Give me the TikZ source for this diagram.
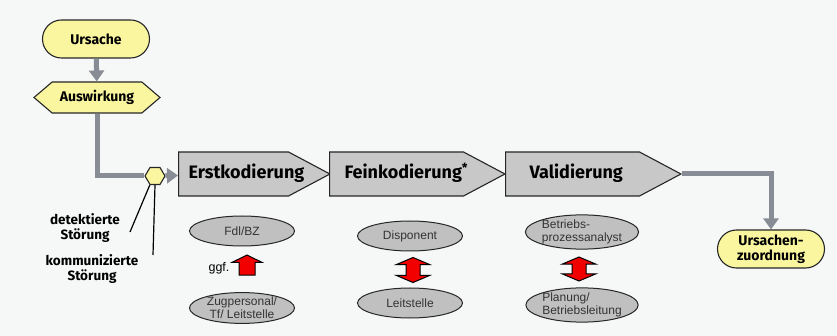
\documentclass[tikz,border=0pt]{standalone}
\usepackage{fontspec}
\setmainfont{Fira Sans}
\newfontfamily\arialfont{Liberation Sans}
\usetikzlibrary{shapes.misc,shapes.symbols,shapes.arrows,shapes.geometric,arrows.meta}
\definecolor{hgrund}{HTML}{F5F8F6}
\definecolor{gelb}{HTML}{FAF6A0}
\definecolor{kasten}{HTML}{C8C8C8}
\definecolor{oval}{HTML}{C0C0C0}
\definecolor{pfeilgrau}{HTML}{878C95}
\definecolor{rot}{HTML}{F20000}
\newcommand\phasetext[3]{\makebox[#1][l]{\hspace*{#2}#3}}
\begin{document}
\begin{tikzpicture}[x=1pt, y=-1pt, node distance=77pt,
  gelbrund/.style={rounded rectangle, draw=black!85, line width=1.1pt, fill=gelb, minimum width=107pt, minimum height=38pt, inner sep=0pt, align=center, font=\bfseries\fontsize{14}{15}\selectfont},
  gelbsechs/.style={signal, signal to=east and west, draw=black!85, line width=1.1pt, fill=gelb, inner sep=0pt},
  phase/.style={signal, signal to=east, signal pointer angle=56, draw=black!85, line width=1.1pt, fill=kasten, text height=13pt, text depth=4pt, inner xsep=0pt, inner ysep=13.5pt, anchor=west, font=\bfseries\fontsize{18}{20}\selectfont},
  oval/.style={ellipse, draw=black!85, line width=1pt, fill=oval, minimum width=105pt, minimum height=30pt, inner sep=0pt, align=center, text=black!80, font=\arialfont\fontsize{12}{13}\selectfont},
  rotpfeil/.style={draw=black, line width=1pt, fill=rot, inner xsep=0pt, rotate=90},
  grau/.style={draw=pfeilgrau, line width=5pt, -{Triangle[width=15pt,length=11pt]}},
  grauline/.style={draw=pfeilgrau, line width=5pt},
  merk/.style={align=center, font=\bfseries\fontsize{13.5}{15}\selectfont}]
\useasboundingbox[fill=hgrund] (0,0) rectangle (837,336);

\node[gelbrund] (U) at (96,39) {Ursache};
\node[gelbsechs, signal pointer angle=81, minimum width=126pt, minimum height=31pt, font=\bfseries\fontsize{14}{15}\selectfont] (A) at (97,97.5) {Auswirkung};
\node[gelbsechs, signal pointer angle=119, minimum width=20pt, minimum height=17pt] (H) at (155,176) {};

\node[phase] (K1) at (178,174) {\phasetext{110pt}{10pt}{Erstkodierung}};
\node[phase] (K2) at (329,174) {\phasetext{134pt}{15pt}{Feinkodierung\textsuperscript{*}}};
\node[phase] (K3) at (505,174) {\phasetext{134pt}{24pt}{Validierung}};

\node[gelbrund] (Z) at (771,249) {Ursachen-\\zuordnung};

\node[oval] (E1) at (242,231) {Fdl/BZ};
\node[oval] (E2) [below of=E1] {Zugpersonal/\\Tf/ Leitstelle};
\node[oval] (E3) at (410,236) {Disponent};
\node[oval] (E4) [below of=E3, node distance=67pt] {Leitstelle};
\node[oval, align=left] (E5) at (582,232) {Betriebs-\\prozessanalyst};
\node[oval, align=left] (E6) [below of=E5, node distance=73pt] {Planung/\\Betriebsleitung};

\node[rotpfeil, single arrow, inner ysep=7.5pt, minimum height=20pt, single arrow head extend=7pt, single arrow tip angle=128] (R1) at (247,267) {};
\node[rotpfeil, double arrow, inner ysep=6.5pt, minimum height=25pt, double arrow head extend=10pt, double arrow tip angle=134] (R2) at (413,270) {};
\node[rotpfeil, double arrow, inner ysep=6.5pt, minimum height=24pt, double arrow head extend=10pt, double arrow tip angle=134] (R3) at (579,269) {};
\node[font=\arialfont\fontsize{12.5}{13}\selectfont] (G) at (219,268) {ggf.};

\node[merk] (D1) at (85,228) {detektierte\\Störung};
\node[merk] (D2) at (92,269) {kommunizierte\\Störung};
\coordinate (d1) at (130,232);
\coordinate (d2) at (153,255);

\draw[grau] (U) -- (A);
\draw[grauline] (A.south) |- (H.west);
\draw[grau] (H) -- (K1);
\draw[grau] (K3.east) -| (Z.north);
\draw[line width=1.2pt] (H.240) -- (d1);
\draw[line width=1.2pt] (H.south) -- (d2);
\end{tikzpicture}
\end{document}
